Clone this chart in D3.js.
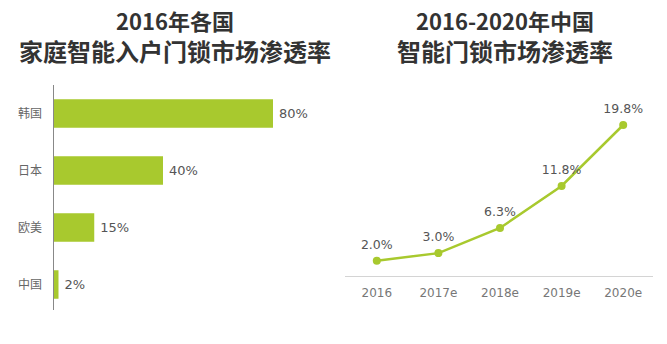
<!DOCTYPE html>
<html><head><meta charset="utf-8">
<script src="https://cdn.jsdelivr.net/npm/d3@7"></script>
<style>body{margin:0;background:#fff}svg{display:block}</style>
</head><body>
<svg id="c" width="667" height="344"></svg>
<script>
const countries = ["韩国", "日本", "欧美", "中国"];
const countryValues = [80, 40, 15, 2];
const years = ["2016", "2017e", "2018e", "2019e", "2020e"];
const yearValues = [2.0, 3.0, 6.3, 11.8, 19.8];
const leftTitle = ["2016年各国", "家庭智能入户门锁市场渗透率"];
const rightTitle = ["2016-2020年中国", "智能门锁市场渗透率"];

const svg = d3.select("#c");
const green = "#a8c92e";
const font = "'Noto Sans CJK SC', 'Noto Sans', sans-serif";
const numFont = "'DejaVu Sans', 'Noto Sans CJK SC', sans-serif";

// Titles
function title(lines, cx) {
  svg.append("text").attr("x", cx).attr("y", 30).attr("text-anchor", "middle")
    .attr("font-family", font).attr("font-weight", "bold").attr("font-size", 22)
    .attr("fill", "#333").text(lines[0]);
  svg.append("text").attr("x", cx).attr("y", 61).attr("text-anchor", "middle")
    .attr("font-family", font).attr("font-weight", "bold").attr("font-size", 24)
    .attr("fill", "#333").text(lines[1]);
}
title(leftTitle, 175);
title(rightTitle, 505);

// Left bar chart
const x = d3.scaleLinear().domain([0, 80]).range([53, 273]);
const y = d3.scaleBand().domain(countries).range([85, 313]).paddingInner(0.5).paddingOuter(0.25);
const gl = svg.append("g");
gl.selectAll("rect.bar").data(countries).join("rect")
  .attr("x", x(0)).attr("y", d => y(d))
  .attr("width", (d, i) => x(countryValues[i]) - x(0))
  .attr("height", y.bandwidth()).attr("fill", green);
gl.append("line").attr("x1", 53.5).attr("x2", 53.5).attr("y1", 85).attr("y2", 310)
  .attr("stroke", "#888").attr("stroke-width", 1);
gl.selectAll("text.cat").data(countries).join("text")
  .attr("x", 42).attr("y", d => y(d) + y.bandwidth() / 2).attr("dy", "0.35em")
  .attr("text-anchor", "end").attr("font-family", font).attr("font-size", 12)
  .attr("fill", "#666").text(d => d);
gl.selectAll("text.val").data(countries).join("text")
  .attr("x", (d, i) => x(countryValues[i]) + 6).attr("y", d => y(d) + y.bandwidth() / 2).attr("dy", "0.35em")
  .attr("font-family", numFont).attr("font-size", 13).attr("fill", "#555")
  .text((d, i) => countryValues[i] + "%");

// Right line chart
const px = d3.scalePoint().domain(years).range([346, 654]).padding(0.5);
const py = d3.scaleLinear().domain([0, 19.8]).range([276, 125]);
const gr = svg.append("g");
gr.append("line").attr("x1", 345).attr("x2", 653).attr("y1", 276.5).attr("y2", 276.5)
  .attr("stroke", "#d4d4d4").attr("stroke-width", 1.2);
const line = d3.line().x((d, i) => px(years[i])).y(d => py(d)).curve(d3.curveLinear);
gr.append("path").datum(yearValues).attr("d", line).attr("fill", "none")
  .attr("stroke", green).attr("stroke-width", 2.5);
gr.selectAll("circle").data(yearValues).join("circle")
  .attr("cx", (d, i) => px(years[i])).attr("cy", d => py(d)).attr("r", 4).attr("fill", green);
gr.selectAll("text.v").data(yearValues).join("text")
  .attr("x", (d, i) => px(years[i])).attr("y", d => py(d) - 12)
  .attr("text-anchor", "middle").attr("font-family", numFont).attr("font-size", 12.5)
  .attr("fill", "#555").text(d => d.toFixed(1) + "%");
gr.selectAll("text.t").data(years).join("text")
  .attr("x", d => px(d)).attr("y", 293).attr("dy", "0.35em")
  .attr("text-anchor", "middle").attr("font-family", numFont).attr("font-size", 12)
  .attr("fill", "#777").text(d => d);
</script>
</body></html>
